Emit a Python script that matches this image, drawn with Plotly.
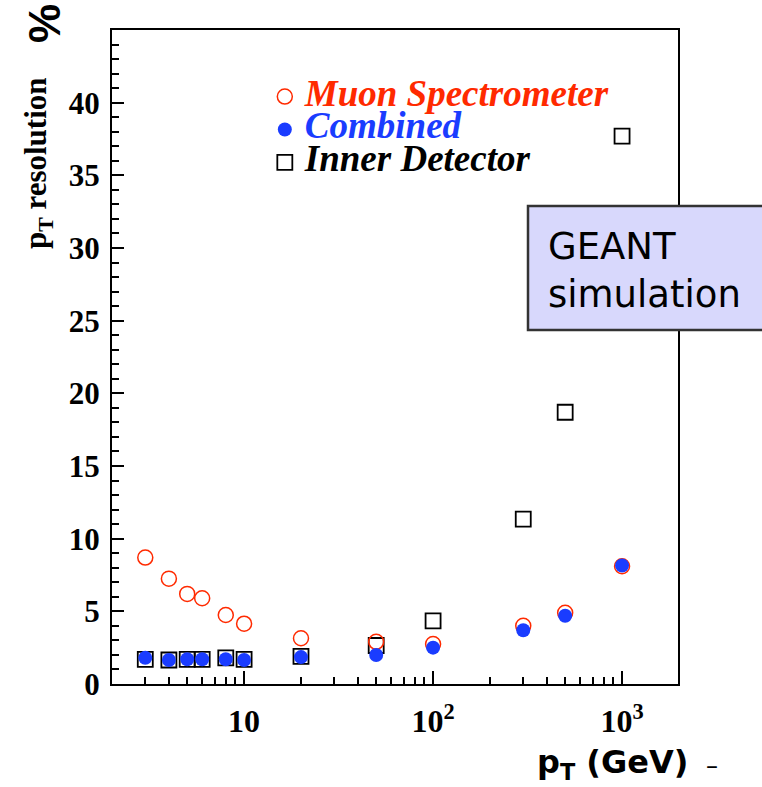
import plotly.graph_objects as go

pt = [3, 4, 5, 6, 8, 10, 20, 50, 100, 300, 500, 1000]
muon = [8.7, 7.25, 6.2, 5.9, 4.75, 4.15, 3.15, 2.9, 2.75, 4.0, 4.9, 8.1]
combined = [1.8, 1.65, 1.7, 1.7, 1.7, 1.65, 1.85, 2.0, 2.5, 3.7, 4.7, 8.15]
inner = [1.7, 1.65, 1.7, 1.7, 1.8, 1.7, 1.9, 2.65, 4.35, 11.35, 18.7, 37.7]

x_tickvals = [10, 100, 1000]
x_ticktext = ["10", "10<sup>2</sup>", "10<sup>3</sup>"]
x_minor = [2, 3, 4, 5, 6, 7, 8, 9, 20, 30, 40, 50, 60, 70, 80, 90,
           200, 300, 400, 500, 600, 700, 800, 900]
y_tickvals = [0, 5, 10, 15, 20, 25, 30, 35, 40]

RED = "#ff2a00"
BLUE = "#1a3cff"

def lab(t, c):
    return ("<span style='font-size:37px;color:%s'><b><i>%s</i></b></span>" % (c, t))

fig = go.Figure()
fig.add_trace(go.Scatter(
    x=pt, y=inner, mode="markers", name=lab("Inner Detector", "#000000"),
    legendrank=3,
    marker=dict(symbol="square-open", size=15, color="black", line=dict(width=1.8))))
fig.add_trace(go.Scatter(
    x=pt, y=muon, mode="markers", name=lab("Muon Spectrometer", RED),
    legendrank=1,
    marker=dict(symbol="circle-open", size=15, color=RED, line=dict(width=1.5))))
fig.add_trace(go.Scatter(
    x=pt, y=combined, mode="markers", name=lab("Combined", BLUE),
    legendrank=2,
    marker=dict(symbol="circle", size=14, color=BLUE)))

fig.update_layout(
    width=762, height=787,
    margin=dict(l=112, r=84, t=30, b=103),
    plot_bgcolor="white", paper_bgcolor="white",
    showlegend=True,
    legend=dict(x=0.27, y=0.931, xanchor="left", yanchor="top",
                bgcolor="rgba(0,0,0,0)",
                font=dict(family="Liberation Serif", size=23, color="black")),
    xaxis=dict(
        type="log", range=[0.301, 3.296],
        tickmode="array", tickvals=x_tickvals, ticktext=x_ticktext,
        ticks="inside", ticklen=13, tickwidth=2, tickcolor="black",
        ticklabelstandoff=8,
        showline=True, linewidth=2, linecolor="black", mirror=True,
        showgrid=False, zeroline=False,
        tickfont=dict(family="Liberation Serif", size=32, color="black", weight="bold"),
        minor=dict(tickmode="array", tickvals=x_minor, ticks="inside",
                   ticklen=7, tickwidth=1.5, tickcolor="black", showgrid=False),
    ),
    yaxis=dict(
        range=[0, 45],
        tickmode="array", tickvals=y_tickvals,
        ticks="inside", ticklen=12, tickwidth=2, tickcolor="black",
        ticklabelstandoff=4,
        showline=True, linewidth=2, linecolor="black", mirror=True,
        showgrid=False, zeroline=False,
        tickfont=dict(family="Liberation Serif", size=31, color="black", weight="bold"),
        minor=dict(dtick=1, ticks="inside", ticklen=7, tickwidth=1.5,
                   tickcolor="black", showgrid=False),
    ),
    shapes=[dict(type="rect", xref="paper", yref="paper",
                 x0=(528 - 112) / 566, x1=(766 - 112) / 566,
                 y0=(684 - 330) / 654, y1=(684 - 206) / 654,
                 fillcolor="#d8d8fc", line=dict(color="#333333", width=2.5),
                 layer="above")],
    annotations=[
        dict(xref="paper", yref="paper", x=(546 - 112) / 566, y=(684 - 270) / 654,
             xanchor="left", yanchor="middle", align="left", showarrow=False,
             text="GEANT<br>simulation",
             font=dict(family="DejaVu Sans", size=37, color="black")),
        dict(xref="paper", yref="paper", x=(38 - 112) / 566, y=(684 - 163) / 654,
             xanchor="center", yanchor="middle", showarrow=False, textangle=-90,
             text="p<sub>T</sub> resolution",
             font=dict(family="Liberation Serif", size=31, color="black", weight="bold")),
        dict(xref="paper", yref="paper", x=(44 - 112) / 566, y=(684 - 24) / 654,
             xanchor="center", yanchor="middle", showarrow=False, textangle=-90,
             text="%",
             font=dict(family="Liberation Sans", size=44, color="black", weight="bold")),
        dict(xref="paper", yref="paper", x=(612 - 112) / 566, y=(684 - 764) / 654,
             xanchor="center", yanchor="middle", showarrow=False,
             text="p<sub>T</sub> (GeV)",
             font=dict(family="DejaVu Sans", size=32, color="black", weight="bold")),
        dict(xref="paper", yref="paper", x=(712 - 112) / 566, y=(684 - 766) / 654,
             xanchor="center", yanchor="middle", showarrow=False,
             text="–",
             font=dict(family="DejaVu Sans", size=24, color="black")),
    ],
)

fig.write_html("out.html")
